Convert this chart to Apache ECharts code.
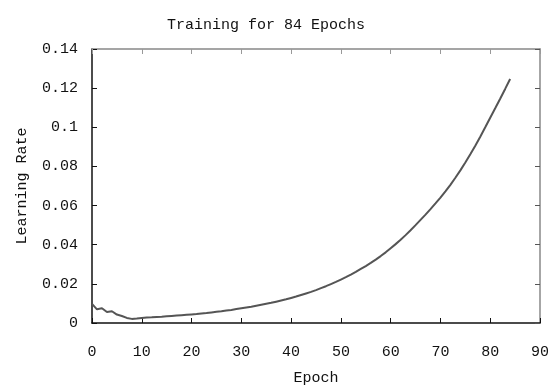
<!DOCTYPE html>
<html>
<head>
<meta charset="utf-8">
<script src="https://cdn.jsdelivr.net/npm/echarts@6/dist/echarts.min.js"></script>
<style>
  html, body { margin: 0; padding: 0; background: #fff; }
  #chart { width: 548px; height: 385px; }
</style>
</head>
<body>
<div id="chart"></div>
<script>
// Learning rate, one value per epoch (0..84)
const epochs = Array.from({ length: 85 }, (_, i) => i);
const learningRate = [
  0.0098, 0.0070, 0.0075, 0.0056, 0.0060, 0.0043, 0.0036, 0.0026, 0.0021, 0.0023,
  0.0026, 0.0028, 0.0029, 0.0031, 0.0032, 0.0034, 0.0036, 0.0038, 0.0040, 0.0042,
  0.0044, 0.0046, 0.0049, 0.0051, 0.0054, 0.0057, 0.0060, 0.0064, 0.0067, 0.0071,
  0.0075, 0.0079, 0.0083, 0.0088, 0.0093, 0.0098, 0.0103, 0.0109, 0.0115, 0.0121,
  0.0128, 0.0135, 0.0143, 0.0151, 0.0159, 0.0168, 0.0178, 0.0188, 0.0199, 0.0210,
  0.0222, 0.0234, 0.0247, 0.0261, 0.0276, 0.0291, 0.0307, 0.0324, 0.0342, 0.0361,
  0.0382, 0.0403, 0.0425, 0.0449, 0.0474, 0.0500, 0.0527, 0.0554, 0.0582, 0.0611,
  0.0641, 0.0673, 0.0706, 0.0742, 0.0780, 0.0820, 0.0862, 0.0906, 0.0952, 0.1000,
  0.1049, 0.1097, 0.1146, 0.1196, 0.1247
];
const yTickLabels = ['0', '0.02', '0.04', '0.06', '0.08', '0.1', '0.12', '0.14'];

const font = 'Liberation Mono';
const chart = echarts.init(document.getElementById('chart'));

const option = {
  animation: false,
  backgroundColor: '#fff',
  textStyle: { fontFamily: font },
  title: {
    text: 'Training for 84 Epochs',
    left: 162,
    top: 13,
    textStyle: { fontFamily: font, fontSize: 15, fontWeight: 'normal', color: '#111' }
  },
  grid: { left: 92, right: 8, top: 49, bottom: 62, outerBoundsMode: 'none', containLabel: false },
  xAxis: [
    {
      type: 'value',
      min: 0, max: 90, interval: 10,
      name: 'Epoch',
      nameLocation: 'middle',
      nameGap: 48,
      nameTextStyle: { fontFamily: font, fontSize: 15, color: '#111' },
      axisLine: { onZero: false, lineStyle: { color: '#111', width: 1.5 } },
      axisTick: { inside: true, length: 5, lineStyle: { color: '#111' } },
      axisLabel: { margin: 22, fontFamily: font, fontSize: 15, color: '#111' },
      splitLine: { show: false }
    },
    {
      type: 'value', position: 'top',
      min: 0, max: 90, interval: 10,
      axisLine: { show: true, onZero: false, lineStyle: { color: '#888', width: 1.5 } },
      axisTick: { show: true, inside: true, length: 5, lineStyle: { color: '#999' } },
      axisLabel: { show: false },
      splitLine: { show: false }
    }
  ],
  yAxis: [
    {
      type: 'value',
      min: 0, max: 0.14, interval: 0.02,
      name: 'Learning Rate',
      nameLocation: 'middle',
      nameGap: 62,
      nameTextStyle: { fontFamily: font, fontSize: 15, color: '#111' },
      axisLine: { show: true, onZero: false, lineStyle: { color: '#111', width: 1.5 } },
      axisTick: { show: true, inside: true, length: 5, lineStyle: { color: '#111' } },
      axisLabel: {
        margin: 14, fontFamily: font, fontSize: 15, color: '#111',
        formatter: (v) => yTickLabels[Math.round(v / 0.02)]
      },
      splitLine: { show: false }
    },
    {
      type: 'value', position: 'right',
      min: 0, max: 0.14, interval: 0.02,
      axisLine: { show: true, onZero: false, lineStyle: { color: '#888', width: 1.5 } },
      axisTick: { show: true, inside: true, length: 5, lineStyle: { color: '#555' } },
      axisLabel: { show: false },
      splitLine: { show: false }
    }
  ],
  series: [
    {
      type: 'line',
      data: epochs.map((e, i) => [e, learningRate[i]]),
      showSymbol: false,
      smooth: false,
      lineStyle: { color: '#555', width: 2 }
    }
  ]
};

chart.setOption(option);
</script>
</body>
</html>
